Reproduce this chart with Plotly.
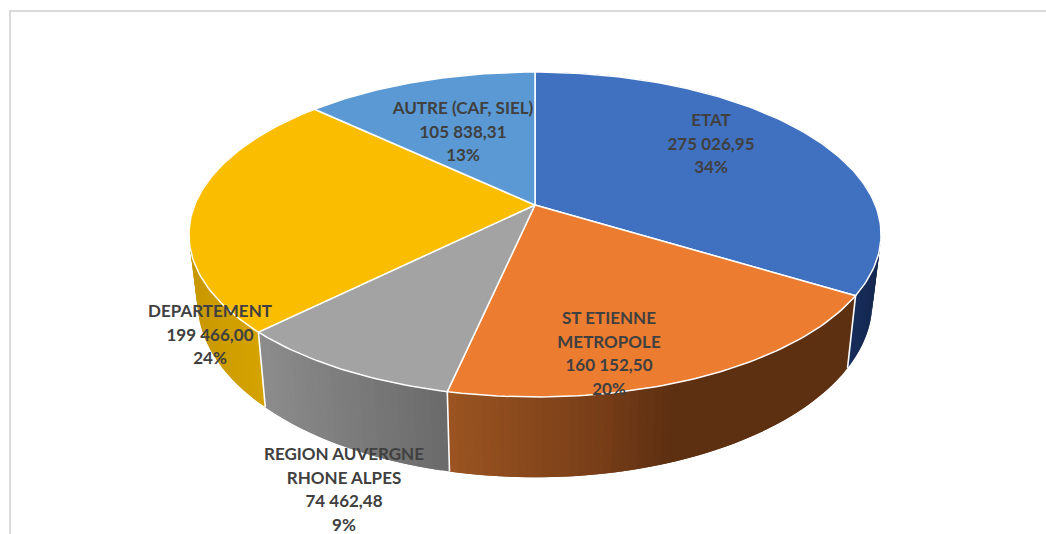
import math
import plotly.graph_objects as go

# ---- data ----
categories = ["ETAT", "ST ETIENNE METROPOLE", "REGION AUVERGNE RHONE ALPES", "DEPARTEMENT", "AUTRE (CAF, SIEL)"]
values = [275026.95, 160152.50, 74462.48, 199466.00, 105838.31]
name_lines = [["ETAT"], ["ST ETIENNE", "METROPOLE"], ["REGION AUVERGNE", "RHONE ALPES"], ["DEPARTEMENT"], ["AUTRE (CAF, SIEL)"]]

# ---- styles / layout ----
top_colors = ["#4070C0", "#EB7C30", "#A3A3A3", "#FBBD00", "#5A99D4"]
wall_ramps = [
    [(850, (24, 46, 92)), (880, (20, 40, 80))],
    [(447, (155, 84, 33)), (600, (120, 62, 24)), (670, (94, 48, 18)), (860, (94, 48, 18))],
    [(258, (140, 140, 140)), (447, (106, 106, 106))],
    [(190, (200, 152, 0)), (262, (214, 164, 0))],
    [(0, (90, 150, 210)), (1046, (90, 150, 210))],
]
label_pos = [(711, 122), (609, 320), (344, 456), (210, 313), (463, 110)]
LINE_STEP = 23.6
CX, CY, A, B, P = 535.0, 205.0, 340.3, 157.1, 0.1815
text_color = "#404040"


def rim(theta):
    X, Y = math.sin(theta), math.cos(theta)
    w = 1 + P * Y
    return CX + A * X / w, CY - B * Y / w


def lower(pt):
    return CX + 0.975 * (pt[0] - CX), CY + 65 + 1.08 * (pt[1] - CY)


def ramp(stops, x):
    if x <= stops[0][0]:
        c = stops[0][1]
    elif x >= stops[-1][0]:
        c = stops[-1][1]
    else:
        for (x0, c0), (x1, c1) in zip(stops, stops[1:]):
            if x0 <= x <= x1:
                t = (x - x0) / (x1 - x0)
                c = tuple(c0[i] + t * (c1[i] - c0[i]) for i in range(3))
                break
    return "rgb(%d,%d,%d)" % tuple(round(v) for v in c)


total = sum(values)
edges = [0.0]
for v in values:
    edges.append(edges[-1] + v / total * 2 * math.pi)

fig = go.Figure()

# side walls (gradient strips); each strip runs on under the next one so no seams show
for i in range(len(values)):
    a0, a1 = edges[i], edges[i + 1]
    if i == 4:
        continue
    n = max(3, int((a1 - a0) / math.radians(1.2)))
    for k in range(n):
        t0 = a0 + (a1 - a0) * k / n
        t1 = a0 + (a1 - a0) * min(k + 2, n) / n
        tm = a0 + (a1 - a0) * (k + 0.5) / n
        m = max(2, int((t1 - t0) / math.radians(0.6)))
        ts = [t0 + (t1 - t0) * j / m for j in range(m + 1)]
        ps = [rim(t) for t in ts]
        qs = [lower(p) for p in ps]
        col = ramp(wall_ramps[i], rim(tm)[0])
        xs = [p[0] for p in ps] + [q[0] for q in reversed(qs)] + [ps[0][0]]
        ys = [p[1] for p in ps] + [q[1] for q in reversed(qs)] + [ps[0][1]]
        fig.add_trace(go.Scatter(
            x=xs, y=ys, mode="lines", fill="toself", fillcolor=col,
            line=dict(width=0), hoverinfo="skip", showlegend=False))

# white edges between the walls
for i in (1, 2, 3):
    p = rim(edges[i])
    q = lower(p)
    fig.add_trace(go.Scatter(x=[p[0], q[0]], y=[p[1], q[1]], mode="lines",
                             line=dict(color="white", width=1.6), hoverinfo="skip", showlegend=False))

# top faces
for i in range(len(values)):
    a0, a1 = edges[i], edges[i + 1]
    n = max(8, int((a1 - a0) / math.radians(1)))
    pts = [rim(a0 + (a1 - a0) * k / n) for k in range(n + 1)]
    xs = [CX] + [p[0] for p in pts] + [CX]
    ys = [CY] + [p[1] for p in pts] + [CY]
    fig.add_trace(go.Scatter(x=xs, y=ys, mode="lines", fill="toself", fillcolor=top_colors[i],
                             line=dict(color="white", width=1.5), name=categories[i],
                             text=categories[i], hoverinfo="text", showlegend=False))


def fmt(v):
    s = f"{v:,.2f}"
    return s.replace(",", " ").replace(".", ",")


# data labels, one text per line
for i in range(len(values)):
    lines = name_lines[i] + [fmt(values[i]), f"{round(values[i] / total * 100)}%"]
    x0, y0 = label_pos[i]
    fig.add_trace(go.Scatter(
        x=[x0] * len(lines), y=[y0 + j * LINE_STEP for j in range(len(lines))],
        mode="text", text=[f"<b>{t}</b>" for t in lines], textposition="middle center",
        textfont=dict(family="Lato", size=17, color=text_color),
        hoverinfo="skip", showlegend=False, cliponaxis=False))

fig.update_layout(
    width=1046, height=534, margin=dict(l=0, r=0, t=0, b=0),
    paper_bgcolor="white", plot_bgcolor="white", showlegend=False,
    xaxis=dict(range=[0, 1046], visible=False, fixedrange=True),
    yaxis=dict(range=[534, 0], visible=False, fixedrange=True),
    shapes=[
        dict(type="line", xref="x", yref="y", x0=10, x1=1046, y0=11, y1=11, line=dict(color="#DADADA", width=2)),
        dict(type="line", xref="x", yref="y", x0=10, x1=10, y0=10, y1=534, line=dict(color="#DADADA", width=2)),
    ],
)

fig.write_html("out.html", post_script="document.body.style.margin='0';document.body.style.overflow='hidden';",
               config={"displayModeBar": False})
